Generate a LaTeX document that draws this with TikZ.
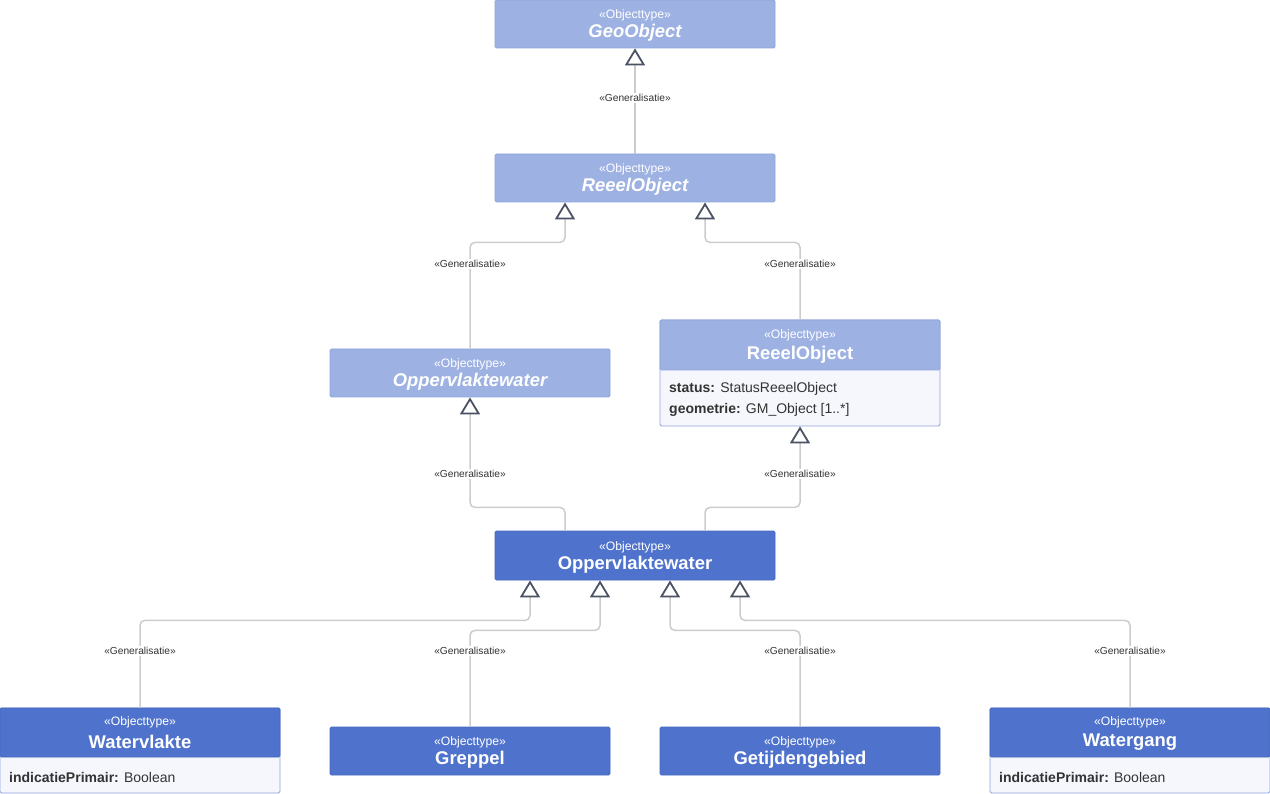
\documentclass[tikz,border=0pt]{standalone}
\usepackage{fontspec}
\setmainfont{Liberation Sans}
\usetikzlibrary{arrows.meta,calc}
\definecolor{hdrL}{HTML}{9DB1E3}
\definecolor{hdrD}{HTML}{4F73CC}
\definecolor{bordL}{HTML}{8EA3DD}
\definecolor{bordD}{HTML}{4566BE}
\definecolor{attrbg}{HTML}{F5F7FC}
\definecolor{conn}{HTML}{CCCCCC}
\definecolor{tipc}{HTML}{4A5263}
\definecolor{txt}{HTML}{333333}
\begin{document}
\begin{tikzpicture}[x=1pt,y=-1pt,
  hdrlight/.style={rectangle, minimum width=280pt, minimum height=48pt, inner sep=0pt, fill=hdrL, draw=bordL, line width=0.8pt, rounded corners=1.5pt},
  hdrdark/.style={rectangle, minimum width=280pt, minimum height=48pt, inner sep=0pt, fill=hdrD, draw=bordD, line width=0.8pt, rounded corners=1.5pt},
  attrbox/.style={rectangle, minimum width=280pt, inner sep=0pt, fill=attrbg, draw=bordL, line width=0.8pt, rounded corners=1.5pt},
  stereo/.style={text=white, font=\fontsize{12.2}{14}\selectfont, inner sep=0pt},
  cname/.style={text=white, font=\bfseries\fontsize{18.4}{21}\selectfont, inner sep=0pt},
  aname/.style={text=white, font=\bfseries\itshape\fontsize{18.4}{21}\selectfont, inner sep=0pt},
  attr/.style={anchor=west, text=txt, font=\fontsize{14}{16}\selectfont, inner sep=0pt},
  gen/.style={draw=conn, line width=1.5pt, rounded corners=5pt,
    -{Triangle[length=17pt, width=20pt, color=tipc, fill=white, line width=1.8pt]}},
  glabel/.style={fill=white, text=txt, font=\fontsize{10.2}{12}\selectfont, inner sep=1.5pt}
]
\useasboundingbox (0,0) rectangle (1270,794);

% ---------- boxes ----------
\node[hdrlight] (geo) at (635,24) {};
\node[stereo] (geoS) at (635,15) {«Objecttype»};
\node[aname] (geoN) at (635,33) {GeoObject};

\node[hdrlight] (reeelA) at (635,178) {};
\node[stereo] (reeelAS) at (635,169) {«Objecttype»};
\node[aname] (reeelAN) at (635,187) {ReeelObject};

\node[hdrlight] (oppA) at (470,373) {};
\node[stereo] (oppAS) at (470,364) {«Objecttype»};
\node[aname] (oppAN) at (470,382) {Oppervlaktewater};

\node[attrbox, minimum height=106pt] (reeelB) at (800,373) {};
\node[hdrlight, minimum height=50pt] (reeelBh) at (800,345) {};
\node[stereo] (reeelBS) at (800,335) {«Objecttype»};
\node[cname] (reeelBN) at (800,355) {ReeelObject};
\node[attr] (reeelBa1) at (669,389) {\textbf{status:} StatusReeelObject};
\node[attr] (reeelBa2) at (669,410) {\textbf{geometrie:} GM\_Object [1..*]};

\node[hdrdark, minimum height=49pt] (main) at (635,555.5) {};
\node[stereo] (mainS) at (635,547) {«Objecttype»};
\node[cname] (mainN) at (635,565) {Oppervlaktewater};

\node[attrbox, minimum height=85pt] (wv) at (140,750.5) {};
\node[hdrdark, minimum height=49pt] (wvh) at (140,732.5) {};
\node[stereo] (wvS) at (140,722) {«Objecttype»};
\node[cname] (wvN) at (140,742) {Watervlakte};
\node[attr] (wva1) at (9,777) {\textbf{indicatiePrimair:} Boolean};

\node[hdrdark] (gr) at (470,751) {};
\node[stereo] (grS) at (470,742) {«Objecttype»};
\node[cname] (grN) at (470,760) {Greppel};

\node[hdrdark] (gt) at (800,751) {};
\node[stereo] (gtS) at (800,742) {«Objecttype»};
\node[cname] (gtN) at (800,760) {Getijdengebied};

\node[attrbox, minimum height=85pt] (wg) at (1130,750.5) {};
\node[hdrdark, minimum height=49pt] (wgh) at (1130,732.5) {};
\node[stereo] (wgS) at (1130,722) {«Objecttype»};
\node[cname] (wgN) at (1130,742) {Watergang};
\node[attr] (wga1) at (999,777) {\textbf{indicatiePrimair:} Boolean};

% ---------- connectors ----------
\draw[gen] (reeelA.north) -- (geo.south);
\draw[gen] (oppA.north) |- ([xshift=-70pt,yshift=-40pt]reeelA.south) -- ([xshift=-70pt]reeelA.south);
\draw[gen] (reeelB.north) |- ([xshift=70pt,yshift=-40pt]reeelA.south) -- ([xshift=70pt]reeelA.south);
\draw[gen] ([xshift=-70pt]main.north) |- ([yshift=-110pt]oppA.south) -- (oppA.south);
\draw[gen] ([xshift=70pt]main.north) |- ([yshift=-81pt]reeelB.south) -- (reeelB.south);
\draw[gen] (wv.north) |- ([xshift=-105pt,yshift=-40pt]main.south) -- ([xshift=-105pt]main.south);
\draw[gen] (gr.north) |- ([xshift=-35pt,yshift=-50pt]main.south) -- ([xshift=-35pt]main.south);
\draw[gen] (gt.north) |- ([xshift=35pt,yshift=-50pt]main.south) -- ([xshift=35pt]main.south);
\draw[gen] (wg.north) |- ([xshift=105pt,yshift=-40pt]main.south) -- ([xshift=105pt]main.south);

% ---------- labels ----------
\node[glabel] (l1) at (635,98) {«Generalisatie»};
\node[glabel] (l2) at (470,264) {«Generalisatie»};
\node[glabel] (l3) at (800,264) {«Generalisatie»};
\node[glabel] (l4) at (470,474) {«Generalisatie»};
\node[glabel] (l5) at (800,474) {«Generalisatie»};
\node[glabel] (l6) at (140,651) {«Generalisatie»};
\node[glabel] (l7) at (470,651) {«Generalisatie»};
\node[glabel] (l8) at (800,651) {«Generalisatie»};
\node[glabel] (l9) at (1130,651) {«Generalisatie»};
\end{tikzpicture}
\end{document}
